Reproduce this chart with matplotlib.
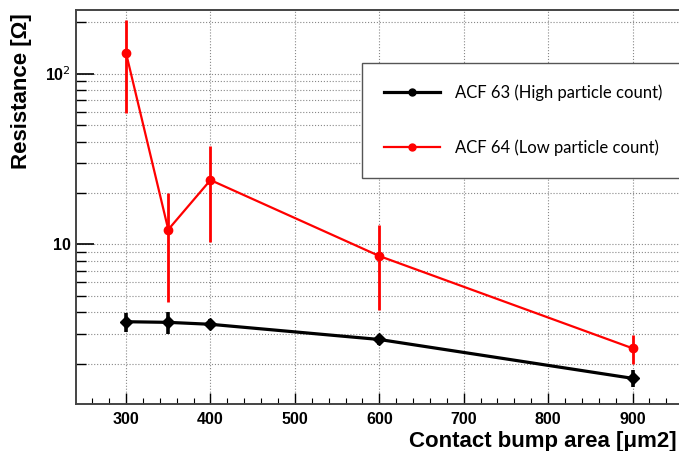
import matplotlib
matplotlib.use('Agg')
import matplotlib.pyplot as plt
from matplotlib.lines import Line2D
from matplotlib.ticker import MultipleLocator, LogLocator, NullFormatter, FixedLocator

# bump area (um2)
area = [300, 350, 400, 600, 900]

# ACF 63 (high particle count)
r63 = [3.52, 3.49, 3.40, 2.77, 1.64]
r63_hi = [3.94, 3.99, 3.63, 2.94, 1.83]
r63_lo = [3.07, 2.98, 3.18, 2.57, 1.45]

# ACF 64 (low particle count)
r64 = [132, 12.2, 23.8, 8.54, 2.46]
r64_hi = [207, 20.0, 37.8, 13.0, 2.94]
r64_lo = [59, 4.61, 10.35, 4.12, 2.0]

labels = ['ACF 63 (High particle count)', 'ACF 64 (Low particle count)']

fig = plt.figure(figsize=(6.79, 4.51), dpi=100)
ax = fig.add_axes([76/679, 47/451, 630/679, 394/451])

err63 = [[v - l for v, l in zip(r63, r63_lo)], [h - v for v, h in zip(r63, r63_hi)]]
err64 = [[v - l for v, l in zip(r64, r64_lo)], [h - v for v, h in zip(r64, r64_hi)]]

ax.errorbar(area, r63, yerr=err63, color='black', lw=2.3, elinewidth=2.6,
            marker='D', ms=6, capsize=0, zorder=4)
ax.errorbar(area, r64, yerr=err64, color='#ff0000', lw=1.6, elinewidth=2.0,
            marker='o', ms=6, capsize=0, zorder=3)

ax.set_yscale('log')
ax.set_xlim(240.7, 987)
ax.set_ylim(1.16, 236)

ax.xaxis.set_major_locator(FixedLocator([300, 400, 500, 600, 700, 800, 900]))
ax.xaxis.set_minor_locator(MultipleLocator(20))
ax.yaxis.set_major_locator(FixedLocator([10, 100]))
ax.yaxis.set_minor_locator(LogLocator(base=10, subs=range(2, 10)))
ax.yaxis.set_minor_formatter(NullFormatter())
ax.set_yticklabels(['10', '10$^{2}$'])

for lab in ax.get_xticklabels() + ax.get_yticklabels():
    lab.set_fontfamily('Liberation Sans')
    lab.set_fontweight('bold')
    lab.set_fontsize(11.5)

ax.tick_params(axis='y', which='major', direction='in', length=13, width=1.2, pad=4)
ax.tick_params(axis='y', which='minor', direction='in', length=7, width=1.0)
ax.tick_params(axis='x', which='major', direction='in', length=8, width=1.0, pad=6)
ax.tick_params(axis='x', which='minor', direction='in', length=4, width=0.8)

ax.grid(True, which='major', axis='x', ls=':', color='#888888', lw=0.8)
ax.grid(True, which='both', axis='y', ls=':', color='#888888', lw=0.8)

for s in ['left', 'top', 'bottom']:
    ax.spines[s].set_color('#444444')
    ax.spines[s].set_linewidth(1.4)
ax.spines['right'].set_visible(False)

fig.text(0.032, 0.97, 'Resistance [\u03a9]', rotation=90, ha='center', va='top',
         fontsize=16, fontweight='bold', family='Liberation Sans')
fig.text(0.997, 0.022, 'Contact bump area [\u03bcm2]', ha='right', va='center',
         fontsize=16, fontweight='bold', family='Liberation Sans')

handles = [Line2D([], [], color='black', lw=2.3, marker='o', ms=5),
           Line2D([], [], color='#ff0000', lw=1.6, marker='o', ms=5)]
leg = ax.legend(handles, labels, loc='upper left', bbox_to_anchor=(362/679, 1 - 63/451),
                bbox_transform=fig.transFigure, borderaxespad=0, frameon=True,
                fancybox=False, edgecolor='#555555', framealpha=1,
                prop={'family': 'Lato', 'size': 12}, labelspacing=2.3,
                handlelength=3.4, borderpad=1.3, handletextpad=0.9)
leg.get_frame().set_linewidth(1.0)

fig.savefig('out.png', dpi=100)
